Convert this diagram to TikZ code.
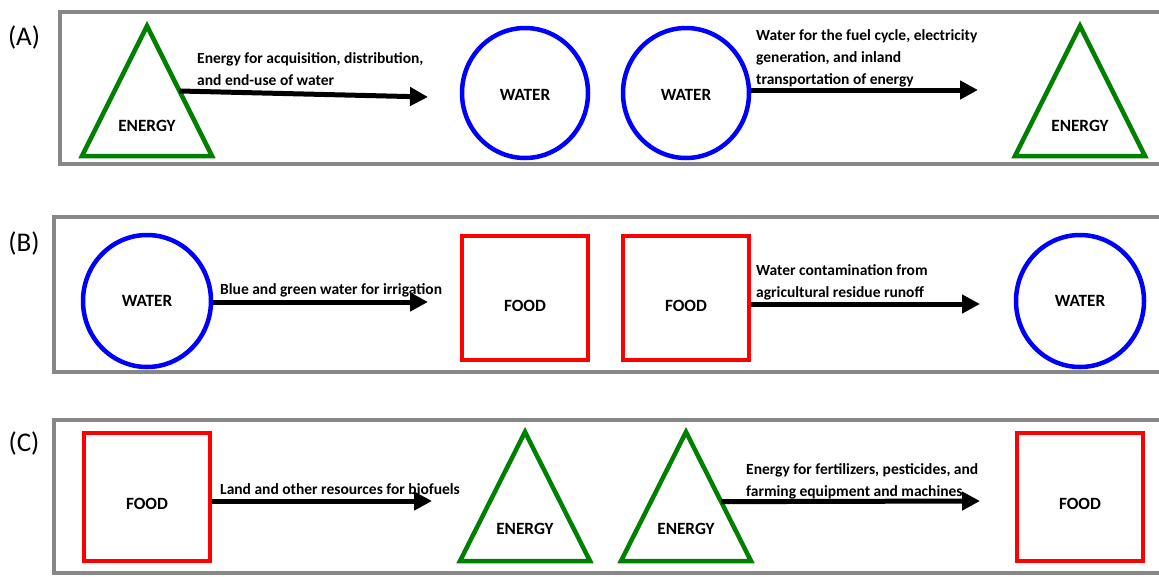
\documentclass[tikz,border=0pt]{standalone}
\usepackage{fontspec}
\setmainfont{Carlito}
\usetikzlibrary{shapes.geometric,arrows.meta,calc}
\definecolor{boxgray}{HTML}{878787}
\definecolor{tgreen}{HTML}{008000}
\tikzset{
  panel/.style={draw=boxgray, line width=4pt},
  tri/.style={draw=tgreen, line width=4.5pt, line join=miter},
  wat/.style={draw=blue, line width=4.5pt, ellipse, minimum width=126pt, minimum height=130pt, inner sep=0pt},
  fd/.style={draw=red, line width=4.5pt, rectangle, minimum width=126pt, minimum height=124pt, inner sep=0pt},
  nm/.style={font=\fontsize{17.2}{20}\selectfont\bfseries, inner sep=0pt},
  lbl/.style={font=\fontsize{15.5}{22}\selectfont\bfseries, align=left, anchor=west, inner sep=0pt},
  tagtxt/.style={font=\fontsize{27}{30}\selectfont, inner sep=0pt},
  arr/.style={line width=5pt, -{Triangle[length=18pt,width=18pt]}, shorten >=0pt}
}
\begin{document}
\begin{tikzpicture}[x=1pt,y=-1pt]
\useasboundingbox (0,0) rectangle (1159,576);
% panels
\draw[panel] (1175,12) -- (60,12) -- (60,164) -- (1175,164);
\draw[panel] (1175,217) -- (54,217) -- (54,372) -- (1175,372);
\draw[panel] (1175,420) -- (54,420) -- (54,573) -- (1175,573);
\node[tagtxt] (tA) at (24,37) {(A)};
\node[tagtxt] (tB) at (24,243) {(B)};
\node[tagtxt] (tC) at (24,443) {(C)};

% ---------- (A)
\draw[tri] (147,26) coordinate (A1t) -- (212,156) coordinate (A1r) -- (82,156) -- cycle;
\node[nm] (A1) at (147,126) {ENERGY};
\node[wat] (A2) at (525,93) {};
\node[nm] (A2t) at (525,95) {WATER};
\node[wat] (A3) at (686,93) {};
\node[nm] (A3t) at (686,95) {WATER};
\draw[tri] (1080,26) coordinate (A4t) -- (1145,156) -- (1015,156) -- cycle;
\node[nm] (A4) at (1080,126) {ENERGY};
\coordinate (A1s) at ($(A1t)!0.5!(A1r)$);
\coordinate (A1e) at (428,97);
\coordinate (A3e) at (978,90);
\draw[arr] (A1s) -- (A1e);
\draw[arr] (A3.east |- A3e) -- (A3e);
\node[lbl] (LA1) at (197,69) {Energy for acquisition, distribution,\\and end-use of water};
\node[lbl] (LA2) at (756,58) {Water for the fuel cycle, electricity\\generation, and inland\\transportation of energy};

% ---------- (B)
\node[wat, minimum width=128pt, minimum height=132pt] (B1) at (147,301) {};
\node[nm] (B1t) at (147,301) {WATER};
\node[fd] (B2) at (525,298) {};
\node[nm] (B2t) at (525,306) {FOOD};
\node[fd] (B3) at (686,298) {};
\node[nm] (B3t) at (686,306) {FOOD};
\node[wat, minimum width=128pt, minimum height=132pt] (B4) at (1080,301) {};
\node[nm] (B4t) at (1080,301) {WATER};
\coordinate (B1e) at (428,302);
\coordinate (B3e) at (980,304);
\draw[arr] (B1.east |- B1e) -- (B1e);
\draw[arr] (B3.east |- B3e) -- (B3e);
\node[lbl] (LB1) at (220,290) {Blue and green water for irrigation};
\node[lbl] (LB2) at (756,282) {Water contamination from\\agricultural residue runoff};

% ---------- (C)
\node[fd, minimum height=128pt] (C1) at (147,497) {};
\node[nm] (C1t) at (147,504) {FOOD};
\draw[tri] (525,432) -- (590,561) -- (460,561) -- cycle;
\node[nm] (C2) at (525,529) {ENERGY};
\draw[tri] (686,432) coordinate (C3t) -- (751,561) coordinate (C3r) -- (621,561) -- cycle;
\node[nm] (C3) at (686,529) {ENERGY};
\node[fd, minimum height=128pt] (C4) at (1080,497) {};
\node[nm] (C4t) at (1080,504) {FOOD};
\coordinate (C1e) at (432,501);
\coordinate (C3s) at ($(C3t)!0.54!(C3r)$);
\coordinate (C3e) at (980,501);
\draw[arr] (C1.east |- C1e) -- (C1e);
\draw[arr] (C3s) -- (C3e);
\node[lbl] (LC1) at (220,489) {Land and other resources for biofuels};
\node[lbl] (LC2) at (746,481) {Energy for fertilizers, pesticides, and\\farming equipment and machines};
\end{tikzpicture}
\end{document}
